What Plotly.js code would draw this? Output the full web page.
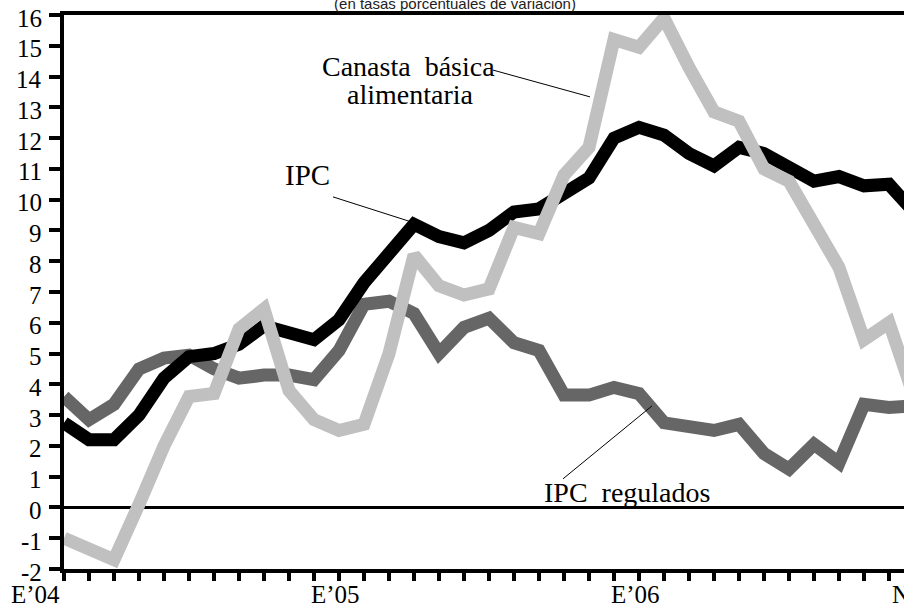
<!DOCTYPE html>
<html><head><meta charset="utf-8">
<script src="https://cdn.plot.ly/plotly-3.0.1.min.js"></script>
<style>
html,body{margin:0;padding:0;overflow:hidden;background:#fff}
</style></head><body><div id="chart" style="width:924px;height:609px"></div>
<script>
// Month index: 0 = January 2004 ... 34 = November 2006
const months = [0,1,2,3,4,5,6,7,8,9,10,11,12,13,14,15,16,17,18,19,20,21,22,23,24,25,26,27,28,29,30,31,32,33,34];

const ipc = [2.75,2.2,2.2,3.0,4.2,4.9,5.0,5.3,5.9,5.7,5.45,6.1,7.3,8.25,9.2,8.8,8.6,9.0,9.6,9.7,10.2,10.7,12.0,12.35,12.1,11.5,11.1,11.7,11.5,11.1,10.6,10.75,10.45,10.5,9.6];
const ipcRegulados = [3.6,2.85,3.35,4.5,4.85,4.95,4.5,4.2,4.3,4.3,4.15,5.1,6.6,6.7,6.3,5.0,5.85,6.15,5.35,5.1,3.65,3.65,3.9,3.7,2.75,2.65,2.5,2.7,1.75,1.25,2.05,1.45,3.35,3.25,3.3];
const canasta = [-1.0,-1.3,-1.7,0.1,2.0,3.6,3.7,5.8,6.45,3.8,2.85,2.5,2.7,5.0,8.2,7.2,6.9,7.1,9.1,8.9,10.8,11.7,15.2,14.95,15.9,14.3,12.85,12.55,11.0,10.6,9.2,7.8,5.45,6.0,3.6];

const xLabelVals = [0, 12, 24, 34];
const xLabelText = ['E’04', 'E’05', 'E’06', 'N'];
const yTickVals = [-2,-1,0,1,2,3,4,5,6,7,8,9,10,11,12,13,14,15,16];
const yTickText = ['-2','-1','0','1','2','3','4','5','6','7','8','9','10','11','12','13','14','15','16'];

const titleText = '(en tasas porcentuales de variación)';
const labelCanasta1 = 'Canasta\u00a0\u00a0básica';
const labelCanasta2 = 'alimentaria';
const labelIpc = 'IPC';
const labelReg = 'IPC\u00a0\u00a0regulados';

const SERIF = 'Liberation Serif';

const traces = [
  {x: months, y: ipcRegulados, mode: 'lines', line: {color: '#666666', width: 13}, hoverinfo: 'skip', showlegend: false},
  {x: months, y: ipc, mode: 'lines', line: {color: '#000000', width: 13}, hoverinfo: 'skip', showlegend: false},
  {x: months, y: canasta, mode: 'lines', line: {color: '#c0c0c0', width: 13}, hoverinfo: 'skip', showlegend: false}
];

// Axis labels drawn as text annotations (serif), positioned on the axis scales
const yLabelAnnots = yTickVals.map(function (v, i) {
  return {text: yTickText[i], xref: 'paper', x: 0, yref: 'y', y: v, xanchor: 'right', yanchor: 'middle',
          xshift: -20, yshift: -3, showarrow: false, font: {family: SERIF, size: 25, color: '#000'}};
});
const xLabelAnnots = xLabelVals.map(function (v, i) {
  return {text: xLabelText[i], xref: 'x', x: v, yref: 'paper', y: 0, xanchor: 'right', yanchor: 'top',
          xshift: -2, yshift: -10, showarrow: false, font: {family: SERIF, size: 25, color: '#000'}};
});

const seriesLabels = [
  {text: labelCanasta1, x: 13.76, y: 14.34, xref: 'x', yref: 'y', showarrow: false, xanchor: 'center', yanchor: 'middle', font: {family: SERIF, size: 28, color: '#000'}},
  {text: labelCanasta2, x: 13.84, y: 13.43, xref: 'x', yref: 'y', showarrow: false, xanchor: 'center', yanchor: 'middle', font: {family: SERIF, size: 28, color: '#000'}},
  {text: labelIpc, x: 9.72, y: 10.79, xref: 'x', yref: 'y', showarrow: false, xanchor: 'center', yanchor: 'middle', font: {family: SERIF, size: 29, color: '#000'}},
  {text: labelReg, x: 22.52, y: 0.47, xref: 'x', yref: 'y', showarrow: false, xanchor: 'center', yanchor: 'middle', font: {family: SERIF, size: 28, color: '#000'}}
];

const layout = {
  width: 924, height: 609,
  margin: {l: 64, r: 0, t: 15, b: 40},
  paper_bgcolor: '#ffffff', plot_bgcolor: '#ffffff',
  showlegend: false,
  font: {family: SERIF, color: '#000'},
  title: {text: titleText, font: {family: 'Liberation Sans', size: 15, color: '#222'},
          xref: 'container', x: 455/924, xanchor: 'center', yref: 'container', y: 1 - 4/609, yanchor: 'middle'},
  xaxis: {
    range: [0, 34.4], showline: true, linecolor: '#000', linewidth: 4, mirror: true,
    ticks: 'outside', ticklen: 8, tickwidth: 4, tickcolor: '#000',
    tickmode: 'array', tickvals: months, showticklabels: false,
    showgrid: false, zeroline: false, fixedrange: true
  },
  yaxis: {
    range: [-2, 16], showline: true, linecolor: '#000', linewidth: 4,
    ticks: 'outside', ticklen: 11, tickwidth: 4, tickcolor: '#000',
    tickmode: 'array', tickvals: yTickVals, showticklabels: false,
    showgrid: false, zeroline: true, zerolinecolor: '#000', zerolinewidth: 3, fixedrange: true
  },
  annotations: seriesLabels.concat(yLabelAnnots, xLabelAnnots),
  shapes: [
    {type: 'line', xref: 'x', yref: 'y', x0: 17.16, y0: 14.21, x1: 21.04, y1: 13.34, line: {color: '#000', width: 1}},
    {type: 'line', xref: 'x', yref: 'y', x0: 10.76, y0: 10.09, x1: 13.92, y1: 9.27, line: {color: '#000', width: 1}},
    {type: 'line', xref: 'x', yref: 'y', x0: 19.96, y0: 0.93, x1: 23.52, y1: 3.30, line: {color: '#000', width: 1}}
  ]
};

Plotly.newPlot('chart', traces, layout, {displayModeBar: false, staticPlot: true});
</script>
</body></html>
